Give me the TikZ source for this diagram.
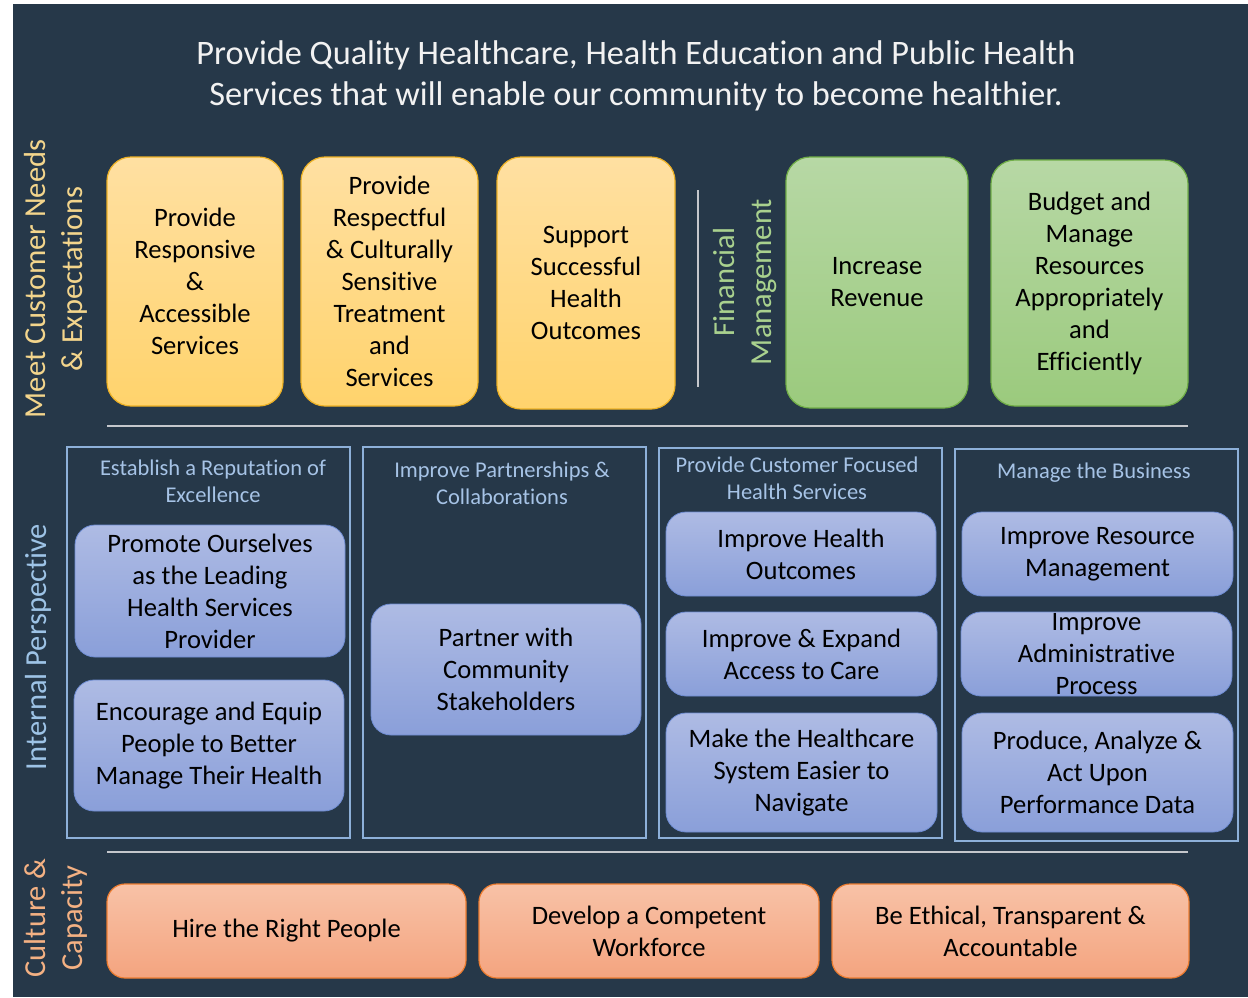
\documentclass[tikz,border=0pt]{standalone}
\usepackage{fontspec}
\setmainfont{Carlito}[Ligatures=NoCommon]
\usepackage{xcolor}
\usepackage{tikz}
\usetikzlibrary{positioning}

\definecolor{bgdark}{HTML}{263849}
\definecolor{goldline}{HTML}{EDB125}
\definecolor{goldtop}{HTML}{FFE0A2}
\definecolor{goldbot}{HTML}{FFD36C}
\definecolor{greenline}{HTML}{70AD47}
\definecolor{greentop}{HTML}{B7D8A5}
\definecolor{greenbot}{HTML}{9BCA7D}
\definecolor{blueline}{HTML}{6E8CD2}
\definecolor{bluetop}{HTML}{AEBBE4}
\definecolor{bluebot}{HTML}{8A9FD9}
\definecolor{salmonline}{HTML}{ED7D31}
\definecolor{salmontop}{HTML}{F8C2A7}
\definecolor{salmonbot}{HTML}{F4A47F}
\definecolor{laneblue}{HTML}{8DB0D9}
\definecolor{lanetext}{HTML}{A6C3E6}
\definecolor{labelgold}{HTML}{F3D58C}
\definecolor{labelblue}{HTML}{9DC3E6}
\definecolor{labelsalmon}{HTML}{F4B183}
\definecolor{labelgreen}{HTML}{A9D18E}
\definecolor{sepgray}{HTML}{C4C7CC}

\begin{document}
\begin{tikzpicture}[x=1pt,y=-1pt,
  goalbox/.style={rounded corners=24pt, line width=1.2pt, inner sep=0pt,
    align=center, text=black, font=\fontsize{26.6}{32}\selectfont},
  custbox/.style={goalbox, draw=goldline, top color=goldtop, bottom color=goldbot},
  finbox/.style={goalbox, draw=greenline, top color=greentop, bottom color=greenbot},
  procbox/.style={goalbox, rounded corners=20pt, line width=0.8pt, draw=blueline,
    top color=bluetop, bottom color=bluebot},
  peoplebox/.style={goalbox, rounded corners=18pt, draw=salmonline,
    top color=salmontop, bottom color=salmonbot},
  lane/.style={draw=laneblue, line width=1.8pt, inner sep=0pt},
  lanehead/.style={align=center, text=lanetext, font=\fontsize{22.5}{27}\selectfont},
  sidelabel/.style={rotate=90, align=center, font=\fontsize{30.5}{37}\selectfont},
  sepline/.style={sepgray, line width=1.6pt}]

\useasboundingbox (0,0) rectangle (1248,997);
\fill[bgdark] (13,4) rectangle (1248,997);

% Mission
\node[align=center, text=white!95!black, font=\fontsize{34.3}{41}\selectfont] (mission) at (636,76)
  {Provide Quality Healthcare, Health Education and Public Health\\
   Services that will enable our community to become healthier.};

% Perspective labels
\node[sidelabel, text=labelgold] (custlbl) at (56,279) {Meet Customer Needs\\\& Expectations};
\node[sidelabel, text=labelblue] (intlbl) at (38,647) {Internal Perspective};
\node[sidelabel, text=labelsalmon] (culturelbl) at (56,918) {Culture \&\\Capacity};
\node[sidelabel, text=labelgreen] (finlbl) at (745,282) {Financial\\Management};

% Separators
\foreach \y in {426,852}
    \draw[sepline] (107,\y) -- (1188,\y);
\draw[sepline] (698,190) -- (698,387);

% Customer objectives
\node[custbox, minimum width=176pt, minimum height=249pt] (responsive) at (195,281.5)
  {Provide\\Responsive\\\&\\Accessible\\Services};
\node[custbox, minimum width=177pt, minimum height=249pt] (respectful) at (389.5,281.5)
  {Provide\\Respectful\\\& Culturally\\Sensitive\\Treatment\\and\\Services};
\node[custbox, minimum width=178pt, minimum height=252pt] (outcomes) at (586,283)
  {Support\\Successful\\Health\\Outcomes};

% Financial objectives
\node[finbox, minimum width=182pt, minimum height=251pt] (revenue) at (877,282.5)
  {Increase\\Revenue};
\node[finbox, minimum width=197pt, minimum height=246pt] (budget) at (1089.5,283)
  {Budget and\\Manage\\Resources\\Appropriately\\and\\Efficiently};

% Internal lanes
\node[lane, minimum width=283pt, minimum height=391pt] (reputation) at (208.5,642.5) {};
\node[lane, minimum width=283pt, minimum height=391pt] (partners) at (504.5,642.5) {};
\node[lane, minimum width=283pt, minimum height=390pt] (focused) at (800.5,643) {};
\node[lane, minimum width=283pt, minimum height=392pt] (business) at (1096.5,645) {};

\node[lanehead] (reputationhd) at (213,481) {Establish a Reputation of\\Excellence};
\node[lanehead] (partnershd) at (502,483) {Improve Partnerships \&\\Collaborations};
\node[lanehead] (focusedhd) at (797,478) {Provide Customer Focused\\Health Services};
\node[lanehead] (businesshd) at (1094,473) {Manage the Business};

\node[procbox, minimum width=270pt, minimum height=132pt] (promote) at (210,591)
  {Promote Ourselves\\as the Leading\\Health Services\\Provider};
\node[procbox, minimum width=270pt, minimum height=131pt] (equip) at (209,745.5)
  {Encourage and Equip\\People to Better\\Manage Their Health};
\node[procbox, minimum width=270pt, minimum height=131pt] (stakeholders) at (506,669.5)
  {Partner with\\Community\\Stakeholders};
\node[procbox, minimum width=270pt, minimum height=84pt] (healthout) at (801,554)
  {Improve Health\\Outcomes};
\node[procbox, minimum width=271pt, minimum height=84pt] (access) at (801.5,654)
  {Improve \& Expand\\Access to Care};
\node[procbox, minimum width=271pt, minimum height=119pt] (navigate) at (801.5,772.5)
  {Make the Healthcare\\System Easier to\\Navigate};
\node[procbox, minimum width=271pt, minimum height=84pt] (resource) at (1097.5,554)
  {Improve Resource\\Management};
\node[procbox, minimum width=271pt, minimum height=84pt] (admin) at (1096.5,654)
  {Improve\\Administrative\\Process};
\node[procbox, minimum width=271pt, minimum height=119pt] (perfdata) at (1097.5,772.5)
  {Produce, Analyze \&\\Act Upon\\Performance Data};

% Culture & capacity
\node[peoplebox, minimum width=359pt, minimum height=94pt] (hire) at (286.5,931)
  {Hire the Right People};
\node[peoplebox, minimum width=340pt, minimum height=94pt] (workforce) at (649,931)
  {Develop a Competent\\Workforce};
\node[peoplebox, minimum width=357pt, minimum height=94pt] (ethical) at (1010.5,931)
  {Be Ethical, Transparent \&\\Accountable};
\end{tikzpicture}
\end{document}
